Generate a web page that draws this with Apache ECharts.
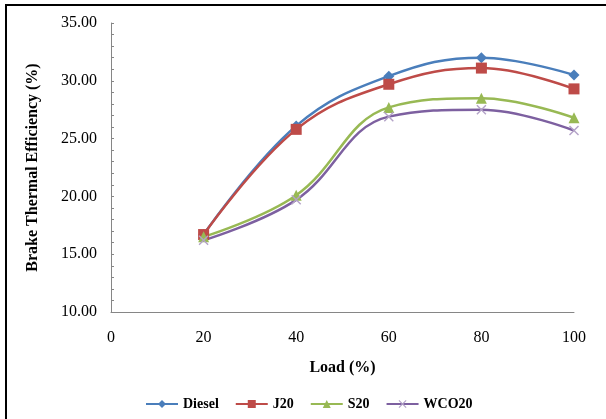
<!DOCTYPE html>
<html>
<head>
<meta charset="utf-8">
<script src="https://cdn.jsdelivr.net/npm/echarts@6/dist/echarts.min.js"></script>
<style>html,body{margin:0;padding:0;background:#fff}#c{width:606px;height:419px}</style>
</head>
<body>
<div id="c"></div>
<script>
var loads = [20, 40, 60, 80, 100];
var diesel = [16.7, 26.1, 30.4, 32.0, 30.5];
var j20 = [16.7, 25.8, 29.7, 31.1, 29.3];
var s20 = [16.5, 20.1, 27.7, 28.5, 26.8];
var wco20 = [16.2, 19.7, 26.9, 27.5, 25.7];
var seriesNames = ['Diesel', 'J20', 'S20', 'WCO20'];

function pairs(vals) { return loads.map(function (x, i) { return [x, vals[i]]; }); }

var font = 'Liberation Serif';
var xPath = 'path://M0,1L1,0L5,4L9,0L10,1L6,5L10,9L9,10L5,6L1,10L0,9L4,5Z';
var chart = echarts.init(document.getElementById('c'));
function mk(name, vals, color, symbol, size, symColor) {
  return {
    name: name, type: 'line', data: pairs(vals), smooth: 0.4,
    symbol: symbol, symbolSize: size, showSymbol: true,
    lineStyle: { color: color, width: 2.5 },
    itemStyle: { color: symColor || color },
    z: 2
  };
}
chart.setOption({
  animation: false,
  backgroundColor: '#fff',
  graphic: [{ type: 'rect', shape: { x: 6, y: 5, width: 640, height: 440 }, style: { fill: 'none', stroke: '#000', lineWidth: 2 } }],
  grid: { left: 111, top: 23, right: 32, bottom: 107 },
  legend: {
    left: 140, top: 392, itemWidth: 32, itemHeight: 10, itemGap: 16,
    data: seriesNames,
    textStyle: { fontFamily: font, fontWeight: 'bold', fontSize: 14, color: '#000' }
  },
  xAxis: {
    type: 'value', min: 0, max: 100, interval: 20,
    name: 'Load (%)', nameLocation: 'middle', nameGap: 48,
    nameTextStyle: { fontFamily: font, fontWeight: 'bold', fontSize: 16, color: '#000' },
    axisLine: { show: true, lineStyle: { color: '#868686', width: 1 } },
    axisTick: { show: false },
    splitLine: { show: false },
    axisLabel: { fontFamily: font, fontSize: 16, color: '#000', margin: 18 }
  },
  yAxis: {
    type: 'value', min: 10, max: 35, interval: 5,
    name: 'Brake Thermal Efficiency (%)', nameLocation: 'middle', nameGap: 70,
    nameTextStyle: { fontFamily: font, fontWeight: 'bold', fontSize: 16, color: '#000' },
    axisLine: { show: true, lineStyle: { color: '#868686', width: 1 } },
    axisTick: { show: true, inside: true, length: 3, lineStyle: { color: '#868686' } },
    minorTick: { show: true, splitNumber: 5, length: 3, lineStyle: { color: '#868686' } },
    splitLine: { show: false },
    axisLabel: { fontFamily: font, fontSize: 16, color: '#000', margin: 14, formatter: function (v) { return v.toFixed(2); } }
  },
  series: [
    mk('Diesel', diesel, '#4A7EBB', 'diamond', 11),
    mk('J20', j20, '#BE4B48', 'rect', 11),
    mk('S20', s20, '#98B954', 'triangle', 11),
    mk('WCO20', wco20, '#7D60A0', xPath, 10, '#B3A2C7')
  ]
});
</script>
</body>
</html>
